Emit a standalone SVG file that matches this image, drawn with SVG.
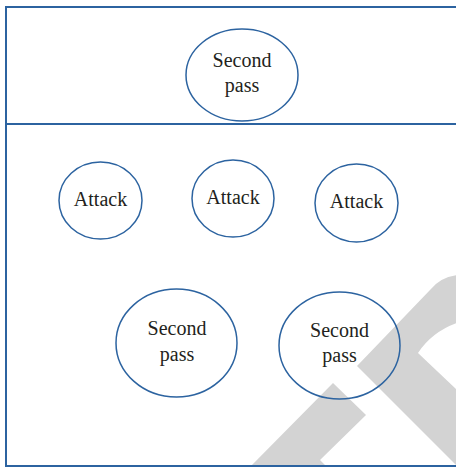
<svg xmlns="http://www.w3.org/2000/svg" width="456" height="468" viewBox="0 0 456 468">
<style>
.frame{fill:none;stroke:#2c63a0;stroke-width:2}
.node{fill:none;stroke:#2c63a0;stroke-width:1.5}
.lbl{font-family:"Liberation Serif","Times New Roman",serif;font-size:20px;fill:#231f20;text-anchor:middle}
.wm{fill:#d3d3d3}
</style>
<rect width="456" height="468" fill="#ffffff"/>
<g id="watermark">
<path class="wm" d="M457,275 Q440,277 430,290 L357,366 L457,466 Z M457,390 L418,353 Q432,332 457,323 Z" fill-rule="evenodd"/>
<path class="wm" d="M333,383 L366,415 L320,460 L326,466 L251,466 Z"/>
</g>
<g id="frame">
<path class="frame" d="M458,7 H6 V466 H458"/>
<line class="frame" x1="6" y1="124" x2="458" y2="124"/>
</g>
<g id="connectors"></g>
<g id="node-top-second-pass">
<ellipse class="node" cx="242" cy="75" rx="56" ry="46"/>
<text class="lbl" x="242" y="67">Second</text>
<text class="lbl" x="242" y="92">pass</text>
</g>
<g id="node-attack-1">
<ellipse class="node" cx="100.5" cy="200.5" rx="41.5" ry="38.5"/>
<text class="lbl" x="100.5" y="206">Attack</text>
</g>
<g id="node-attack-2">
<ellipse class="node" cx="233" cy="198.5" rx="41" ry="38.5"/>
<text class="lbl" x="233" y="204">Attack</text>
</g>
<g id="node-attack-3">
<ellipse class="node" cx="356.5" cy="203" rx="41.5" ry="39"/>
<text class="lbl" x="356.5" y="208">Attack</text>
</g>
<g id="node-second-pass-left">
<ellipse class="node" cx="176.5" cy="343" rx="60.5" ry="54"/>
<text class="lbl" x="177" y="335">Second</text>
<text class="lbl" x="177" y="361">pass</text>
</g>
<g id="node-second-pass-right">
<ellipse class="node" cx="339.5" cy="345.5" rx="60.5" ry="53.5"/>
<text class="lbl" x="339.5" y="337">Second</text>
<text class="lbl" x="339.5" y="362">pass</text>
</g>
</svg>
